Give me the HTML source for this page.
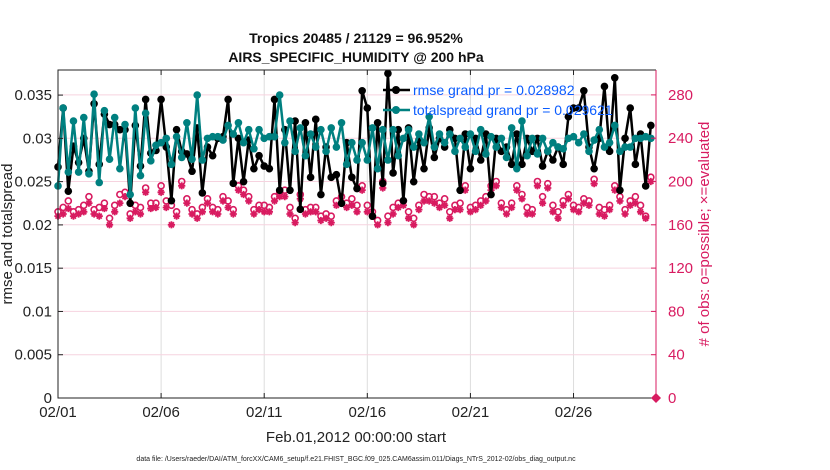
<!DOCTYPE html>
<html><head><meta charset="utf-8"><style>
body{margin:0;background:#fff;}
svg{display:block;font-family:"Liberation Sans",Arial,sans-serif;}
</style></head><body>
<svg id="chart" width="830" height="470" viewBox="0 0 830 470">
<g id="grid"></g>
<g id="series"></g>
<g id="axes"></g>
<text x="356" y="43" text-anchor="middle" font-size="14" font-weight="bold" fill="#111">Tropics 20485 / 21129 = 96.952%</text>
<text x="356" y="62" text-anchor="middle" font-size="14" font-weight="bold" fill="#111">AIRS_SPECIFIC_HUMIDITY @ 200 hPa</text>
<text transform="translate(12,234) rotate(-90)" text-anchor="middle" font-size="15" fill="#222">rmse and totalspread</text>
<text transform="translate(709,234) rotate(-90)" text-anchor="middle" font-size="15" fill="#d81b60"># of obs: o=possible; ×=evaluated</text>
<text x="356" y="442" text-anchor="middle" font-size="15" fill="#222">Feb.01,2012 00:00:00 start</text>
<text x="356" y="461" text-anchor="middle" font-size="7" fill="#222">data file: /Users/raeder/DAI/ATM_forcXX/CAM6_setup/f.e21.FHIST_BGC.f09_025.CAM6assim.011/Diags_NTrS_2012-02/obs_diag_output.nc</text>
<g>
<line x1="383" y1="90" x2="410" y2="90" stroke="#000" stroke-width="2.5"/>
<circle cx="396" cy="90" r="4" fill="#000"/>
<line x1="383" y1="110" x2="410" y2="110" stroke="#008080" stroke-width="2.5"/>
<circle cx="396" cy="110" r="4" fill="#008080"/>
<text x="413" y="95" font-size="14" fill="#0a5cff">rmse grand pr = 0.028982</text>
<text x="413" y="115" font-size="14" fill="#0a5cff">totalspread grand pr = 0.029621</text>
</g>
</svg>
<script>
const rmse=[0.0267,0.0335,0.0239,0.0291,0.0272,0.0300,0.0262,0.0340,0.0270,0.0328,0.0316,0.0316,0.0310,0.0310,0.0225,0.0315,0.0268,0.0345,0.0283,0.0286,
0.0345,0.0290,0.0228,0.0310,0.0285,0.0282,0.0262,0.0312,0.0237,0.0290,0.0280,0.0300,0.0302,0.0345,0.0248,0.0300,0.0250,0.0298,0.0265,0.0280,
0.0268,0.0265,0.0345,0.0240,0.0310,0.0240,0.0320,0.0218,0.0318,0.0255,0.0322,0.0235,0.0290,0.0255,0.0258,0.0225,0.0295,0.0255,0.0242,0.0355,
0.0335,0.0210,0.0318,0.0248,0.0375,0.0260,0.0310,0.0228,0.0312,0.0250,0.0298,0.0265,0.0312,0.0278,0.0300,0.0290,0.0310,0.0300,0.0240,0.0305,
0.0265,0.0300,0.0275,0.0305,0.0235,0.0300,0.0285,0.0290,0.0270,0.0305,0.0270,0.0300,0.0285,0.0300,0.0268,0.0285,0.0275,0.0290,0.0270,0.0325,
0.0335,0.0335,0.0355,0.0290,0.0265,0.0300,0.0360,0.0285,0.0370,0.0240,0.0300,0.0335,0.0270,0.0305,0.0245,0.0315];
const spread=[0.0245,0.0335,0.0261,0.0320,0.0261,0.0324,0.0259,0.0351,0.0249,0.0332,0.0276,0.0324,0.0265,0.0316,0.0235,0.0335,0.0257,0.0329,0.0274,0.0292,
0.0295,0.0300,0.0270,0.0302,0.0278,0.0318,0.0276,0.0350,0.0275,0.0300,0.0302,0.0302,0.0298,0.0315,0.0305,0.0318,0.0295,0.0310,0.0288,0.0310,
0.0300,0.0302,0.0302,0.0350,0.0295,0.0320,0.0285,0.0312,0.0280,0.0305,0.0290,0.0310,0.0285,0.0312,0.0290,0.0318,0.0270,0.0295,0.0275,0.0295,
0.0275,0.0312,0.0265,0.0310,0.0275,0.0310,0.0280,0.0300,0.0310,0.0290,0.0305,0.0295,0.0325,0.0290,0.0305,0.0295,0.0305,0.0285,0.0300,0.0290,
0.0305,0.0285,0.0310,0.0282,0.0302,0.0290,0.0300,0.0278,0.0312,0.0265,0.0320,0.0280,0.0300,0.0282,0.0300,0.0285,0.0295,0.0290,0.0288,0.0300,
0.0302,0.0295,0.0305,0.0285,0.0298,0.0310,0.0290,0.0295,0.0315,0.0285,0.0290,0.0290,0.0300,0.0300,0.0302,0.0300];
const possible=[172,176,182,172,174,178,186,174,176,180,166,178,188,190,170,178,176,194,180,180,
196,182,178,172,200,184,174,170,176,184,176,174,186,182,174,196,192,186,174,178,
178,176,186,190,192,176,166,188,174,176,176,168,170,168,182,186,180,184,178,196,
178,172,164,200,168,176,180,182,172,166,178,188,186,186,180,184,172,178,180,196,
176,178,182,186,196,200,180,174,180,196,188,176,174,200,186,198,178,172,182,188,
178,176,184,182,202,176,174,178,196,186,174,182,186,178,168,204];
const evaluated=[168,170,175,168,170,172,180,170,168,175,160,172,180,186,166,172,170,190,175,176,
190,176,160,168,196,180,170,166,172,180,172,170,182,176,170,192,188,182,170,174,
172,172,182,186,186,170,162,184,170,172,172,164,166,162,178,180,176,178,172,192,
172,168,160,194,162,170,176,178,166,160,174,182,182,180,176,178,166,174,174,192,
172,174,178,182,192,196,176,170,176,192,184,170,170,196,180,194,172,166,178,184,
174,172,180,178,198,170,168,174,192,182,170,178,180,172,166,200];
const xTickLabels=["02/01","02/06","02/11","02/16","02/21","02/26"];
const xTickDays=[0,5,10,15,20,25];
const yTickLabels=["0","0.005","0.01","0.015","0.02","0.025","0.03","0.035"];
const yTicks=[0,0.005,0.01,0.015,0.02,0.025,0.03,0.035];
const rTicks=[0,40,80,120,160,200,240,280];
const stepDays=0.25;

const L=58,R=656,T=70,B=398;
const xS=d=>L+(d/29)*(R-L);
const yS=v=>B-(v/0.0379)*(B-T);
const rS=c=>B-(c/303)*(B-T);
const NS="http://www.w3.org/2000/svg";
function mk(tag,attrs,parent){const e=document.createElementNS(NS,tag);for(const k in attrs)e.setAttribute(k,attrs[k]);parent.appendChild(e);return e;}
const grid=document.getElementById('grid'),ser=document.getElementById('series'),ax=document.getElementById('axes');

xTickDays.forEach((d,i)=>{
  const gl=mk('line',{x1:xS(d),x2:xS(d),y1:T,y2:B,stroke:'#dddddd','stroke-width':1},grid);
  
  
  mk('line',{x1:xS(d),x2:xS(d),y1:B,y2:B-5,stroke:'#222'},ax);
  mk('line',{x1:xS(d),x2:xS(d),y1:T,y2:T+5,stroke:'#222'},ax);
  const t=mk('text',{x:xS(d),y:B+19,'text-anchor':'middle','font-size':15,fill:'#222'},ax);
  t.textContent=xTickLabels[i];
  
  
});
rTicks.forEach(c=>{
  if(c>0){const gl=mk('line',{x1:L,x2:R,y1:rS(c),y2:rS(c),stroke:'#f6d3df','stroke-width':1},grid);
  
  }
  mk('line',{x1:R,x2:R-5,y1:rS(c),y2:rS(c),stroke:'#d81b60'},ax);
  const t=mk('text',{x:R+12,y:rS(c)+5,'font-size':15,fill:'#d81b60'},ax);
  t.textContent=String(c);
  
  
});
yTicks.forEach((v,i)=>{
  mk('line',{x1:L,x2:L+5,y1:yS(v),y2:yS(v),stroke:'#222'},ax);
  const t=mk('text',{x:L-6,y:yS(v)+5,'text-anchor':'end','font-size':15,fill:'#222'},ax);
  t.textContent=yTickLabels[i];
  
  
});
mk('path',{d:`M${R},${T}H${L}V${B}H${R}`,fill:'none',stroke:'#222','stroke-width':1},ax);
mk('line',{x1:R,x2:R,y1:T,y2:B,stroke:'#d81b60','stroke-width':1},ax);
mk('path',{d:`M${R},${B-5}L${R+5},${B}L${R},${B+5}L${R-5},${B}Z`,fill:'#d81b60'},ax);

possible.forEach((c,i)=>{
  const x=xS(i*stepDays),y=rS(c);
  const o=mk('circle',{cx:x,cy:y,r:3,fill:'none',stroke:'#d81b60','stroke-width':1.6},ser);
  
  
});
evaluated.forEach((c,i)=>{
  const x=xS(i*stepDays),y=rS(c),s=3.6;
  const g=mk('path',{d:`M${x-s},${y}H${x+s}M${x},${y-s}V${y+s}M${x-s*0.7},${y-s*0.7}L${x+s*0.7},${y+s*0.7}M${x-s*0.7},${y+s*0.7}L${x+s*0.7},${y-s*0.7}`,stroke:'#d81b60','stroke-width':1.8},ser);
  
  
});
function drawLine(arr,color,name){
  const d=arr.map((v,i)=>(i?'L':'M')+xS(i*stepDays).toFixed(1)+','+yS(v).toFixed(1)).join('');
  const p=mk('path',{d:d,fill:'none',stroke:color,'stroke-width':2.5,'stroke-linejoin':'round'},ser);
  
  
  arr.forEach((v,i)=>{
    const c=mk('circle',{cx:xS(i*stepDays),cy:yS(v),r:3.8,fill:color},ser);
    
    
  });
}
drawLine(rmse,'#000','rmse');
drawLine(spread,'#008080','totalspread');
</script>
</body></html>
